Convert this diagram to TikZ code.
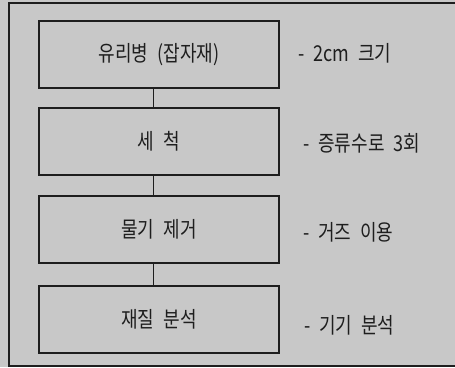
\documentclass[tikz,border=0pt]{standalone}
\usepackage{fontspec}
\setmainfont[WordSpace=2.2]{Noto Sans CJK KR}
\definecolor{bg}{HTML}{C8C8C8}
\definecolor{ink}{HTML}{1E1E1E}
\newcommand{\tallt}[1]{\scalebox{1.03}[1.25]{#1}}
\begin{document}
\begin{tikzpicture}[x=1pt,y=-1pt,
  stepbox/.style={draw=ink,line width=1.5pt,minimum width=240pt,minimum height=67pt,inner sep=0pt,font=\fontsize{17.5}{20}\selectfont,text=ink},
  note/.style={anchor=west,inner sep=0pt,font=\fontsize{17.5}{20}\selectfont,text=ink},
  link/.style={draw=ink,line width=1.4pt}]
\useasboundingbox[fill=bg] (0,0) rectangle (455,367);
\draw[ink,line width=1.6pt] (9,3) rectangle (458,366);
\node[stepbox] (b1) at (159,54.5) {\tallt{유리병 (잡자재)}};
\node[stepbox] (b2) at (159,141.5) {\tallt{세 척}};
\node[stepbox] (b3) at (159,229.5) {\tallt{물기 제거}};
\node[stepbox] (b4) at (159,319.5) {\tallt{재질 분석}};
\node[note] (n1) at (298,53) {\tallt{- 2cm 크기}};
\node[note] (n2) at (303,143) {\tallt{- 증류수로 3회}};
\node[note] (n3) at (303,232) {\tallt{- 거즈 이용}};
\node[note] (n4) at (304,325) {\tallt{- 기기 분석}};
\coordinate (cx) at (153.5,0);
\draw[link] (b1.south -| cx) -- (b2.north -| cx);
\draw[link] (b2.south -| cx) -- (b3.north -| cx);
\draw[link] (b3.south -| cx) -- (b4.north -| cx);
\end{tikzpicture}
\end{document}
